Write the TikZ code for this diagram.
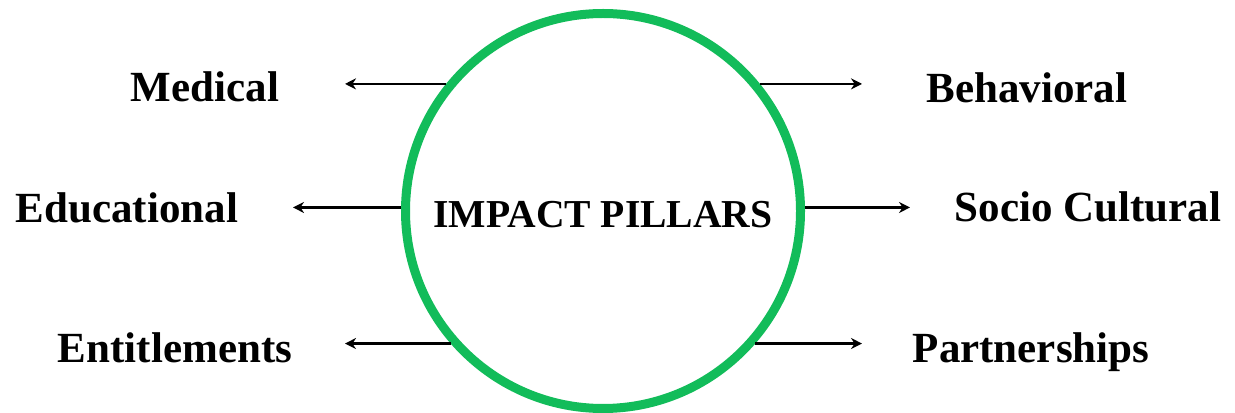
\documentclass[tikz,border=0pt]{standalone}
\usepackage{fontspec}
\setmainfont{Liberation Serif}
\usetikzlibrary{arrows.meta}
\definecolor{pillargreen}{RGB}{18,188,90}
\tikzset{
  pillar/.style={font=\bfseries\fontsize{21.5}{26}\selectfont, anchor=base, inner sep=0pt},
  pil/.style={-{Stealth[length=5.5pt,width=5.5pt]}, line width=1.1pt, black}
}
\begin{document}
\begin{tikzpicture}[x=0.5pt,y=0.5pt]
  \useasboundingbox[fill=white] (0,0) rectangle (1235,412);
  % Coordinates
  \coordinate (mc) at (205,310);
  \coordinate (ed) at (127,189);
  \coordinate (en) at (175,49);
  \coordinate (be) at (1027,309);
  \coordinate (so) at (1088,190);
  \coordinate (pa) at (1031,50);
  \coordinate (tipl) at (345,0);
  \coordinate (tipe) at (293,0);
  \coordinate (tipr) at (862,0);
  \coordinate (tips) at (910,0);
  % Circle
  \node[circle, draw=pillargreen, line width=4.5pt, minimum size=197.5pt,
        inner sep=0pt] (pillars) at (603,201) {};
  \node[pillar, font=\bfseries\fontsize{19.8}{24}\selectfont] (title) at (603,184) {IMPACT PILLARS};
  % Labels
  \node[pillar] (medical) at (mc) {Medical};
  \node[pillar] (educational) at (ed) {Educational};
  \node[pillar] (entitlements) at (en) {Entitlements};
  \node[pillar] (behavioral) at (be) {Behavioral};
  \node[pillar] (socio) at (so) {Socio Cultural};
  \node[pillar] (partners) at (pa) {Partnerships};
  % Arrows
  \draw[pil] (pillars.141) -- (pillars.141 -| tipl);
  \draw[pil] (pillars.179) -- (pillars.179 -| tipe);
  \draw[pil] (pillars.221) -- (pillars.221 -| tipl);
  \draw[pil] (pillars.39) -- (pillars.39 -| tipr);
  \draw[pil] (pillars.1) -- (pillars.1 -| tips);
  \draw[pil] (pillars.-41) -- (pillars.-41 -| tipr);
\end{tikzpicture}
\end{document}
